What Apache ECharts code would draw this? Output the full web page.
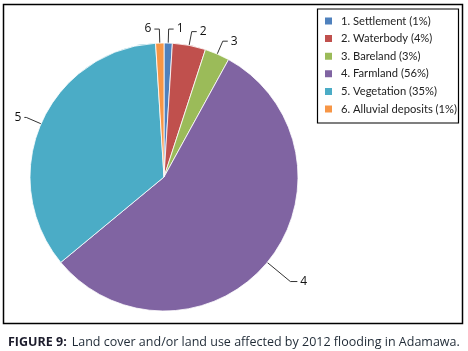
<!DOCTYPE html>
<html>
<head>
<meta charset="utf-8">
<script src="https://cdn.jsdelivr.net/npm/echarts@6/dist/echarts.min.js"></script>
<style>
  html, body { margin: 0; padding: 0; background: #fff; }
  #myChart { width: 468px; height: 351px; }
</style>
</head>
<body>
<div id="myChart"></div>
<script>
// land cover classes and their share (%)
const categories = ['Settlement', 'Waterbody', 'Bareland', 'Farmland', 'Vegetation', 'Alluvial deposits']
const values = [1, 4, 3, 56, 35, 1]
const colors = ['#4F81BD', '#C0504D', '#9BBB59', '#8064A2', '#4BACC6', '#F79646']

const names = categories.map((c, i) => (i + 1) + '. ' + c + ' (' + values[i] + '%)')

const pieData = values.map((v, i) => {
  const item = { name: names[i], value: v, itemStyle: { color: colors[i] } }
  if (i === 3) {
    item.labelLine = { length: 30, length2: 7 }
  }
  if (i === 4) {
    item.labelLine = { length: 16, length2: 2 }
  }
  return item
})

const myChart = echarts.init(document.getElementById('myChart'))
myChart.setOption({
  animation: false,
  title: {
    text: '{b|FIGURE 9:} {n|Land cover and/or land use affected by 2012 flooding in Adamawa.}',
    left: 3,
    top: 328,
    textStyle: {
      fontWeight: 'normal',
      rich: {
        b: { fontFamily: 'Open Sans', fontSize: 12.5, fontWeight: 'bold', color: '#1b1b2b' },
        n: { fontFamily: 'Open Sans', fontSize: 12.5, fontWeight: 'normal', color: '#1f2a36' }
      }
    }
  },
  graphic: [
    // outer frame
    { type: 'rect', shape: { x: 3.5, y: 4.5, width: 459, height: 319 },
      style: { fill: 'none', stroke: '#000', lineWidth: 1.5 }, silent: true },
    // legend frame
    { type: 'rect', shape: { x: 317.5, y: 9, width: 141, height: 114 },
      style: { fill: 'none', stroke: '#000', lineWidth: 1.2 }, silent: true }
  ],
  legend: {
    orient: 'vertical',
    left: 323,
    top: 14.5,
    padding: 0,
    itemWidth: 9,
    itemHeight: 9,
    itemGap: 4.6,
    icon: 'rect',
    data: names,
    textStyle: {
      fontFamily: 'Lato',
      fontSize: 11.2,
      lineHeight: 13,
      color: '#222',
      padding: [0, 0, 0, 3]
    }
  },
  series: [{
    type: 'pie',
    center: [164, 177],
    radius: 134,
    startAngle: 90,
    clockwise: true,
    avoidLabelOverlap: false,
    itemStyle: {
      borderColor: '#fff',
      borderWidth: 0.8
    },
    label: {
      show: true,
      position: 'outside',
      formatter: p => String(p.dataIndex + 1),
      fontFamily: 'Open Sans',
      fontSize: 12,
      color: '#111',
      distanceToLabelLine: 3
    },
    labelLine: {
      show: true,
      length: 14,
      length2: 5,
      lineStyle: { color: '#333', width: 1 }
    },
    emphasis: { disabled: true },
    data: pieData
  }]
})
</script>
</body>
</html>
